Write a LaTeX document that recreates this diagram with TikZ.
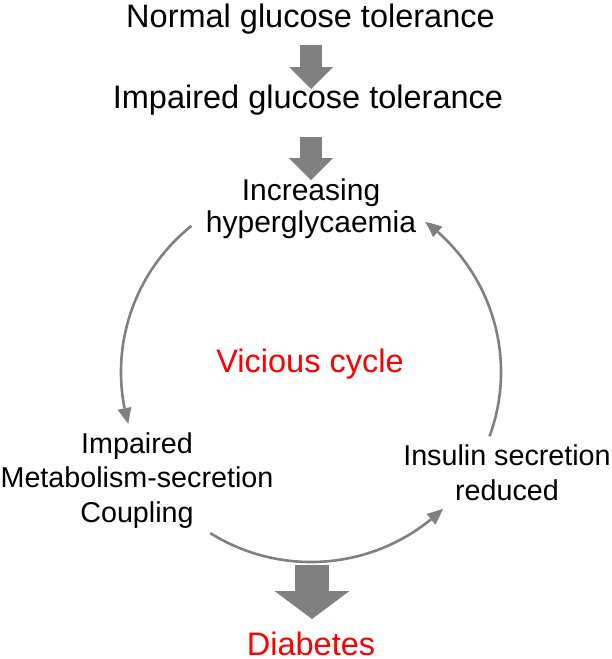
\documentclass[tikz,border=0pt]{standalone}
\usepackage{fontspec}
\setmainfont{Liberation Sans}
\usetikzlibrary{arrows.meta,bending,calc}
\definecolor{agray}{RGB}{128,128,128}
\definecolor{vred}{RGB}{255,0,0}
\tikzset{
  big/.style={font=\fontsize{32.5}{39}\selectfont, inner sep=0pt, anchor=base},
  mid/.style={font=\fontsize{30}{32}\selectfont, inner sep=0pt, anchor=base, align=center},
  small/.style={font=\fontsize{28.7}{34.5}\selectfont, inner sep=0pt, anchor=base, align=center},
  bigarrow/.style={draw=agray, line width=22pt, -{Triangle[length=22pt,width=44pt,line width=0pt]}},
  hugearrow/.style={draw=agray, line width=34pt, -{Triangle[length=28pt,width=75pt,line width=0pt]}},
  cycarrow/.style={draw=agray, line width=2.6pt, -{Triangle[length=16pt,width=14pt,line width=0pt,bend]}}
}
\begin{document}
\begin{tikzpicture}[x=1pt,y=1pt]
\useasboundingbox (0,0) rectangle (611,-659);
\node[big] (ngt) at (310.5,-27) {Normal glucose tolerance};
\node[big] (igt) at (308,-108) {Impaired glucose tolerance};
\node[mid] (hyp) at (311,-232) {Increasing\\hyperglycaemia};
\node[big, text=vred] (vc) at (310,-372) {Vicious cycle};
\node[small] (msc) at (137,-522) {Impaired\\Metabolism-secretion\\Coupling};
\node[small] (isr) at (507,-500) {Insulin secretion\\reduced};
\node[big, text=vred] (dia) at (311,-655) {Diabetes};
% big arrows
\coordinate (a1s) at (311,-45);
\coordinate (a1e) at (311,-89);
\coordinate (a2s) at (311,-137);
\coordinate (a2e) at (311,-180);
\coordinate (a3s) at (312,-565);
\coordinate (a3e) at (312,-619);
\draw[bigarrow] (a1s) -- (a1e);
\draw[bigarrow] (a2s) -- (a2e);
\draw[hugearrow] (a3s) -- (a3e);
% cycle
\coordinate (C) at (311,-372);
\coordinate (l1) at ($(C)+(129:190 and 188)$);
\coordinate (r1) at ($(C)+(-20:190 and 188)$);
\coordinate (b1) at ($(C)+(238:190 and 190)$);
\draw[cycarrow] (l1) arc[start angle=129, end angle=196, x radius=190pt, y radius=188pt];
\draw[cycarrow] (r1) arc[start angle=-20, end angle=53, x radius=190pt, y radius=188pt];
\draw[cycarrow] (b1) arc[start angle=238, end angle=314, x radius=190pt, y radius=190pt];
\end{tikzpicture}
\end{document}
